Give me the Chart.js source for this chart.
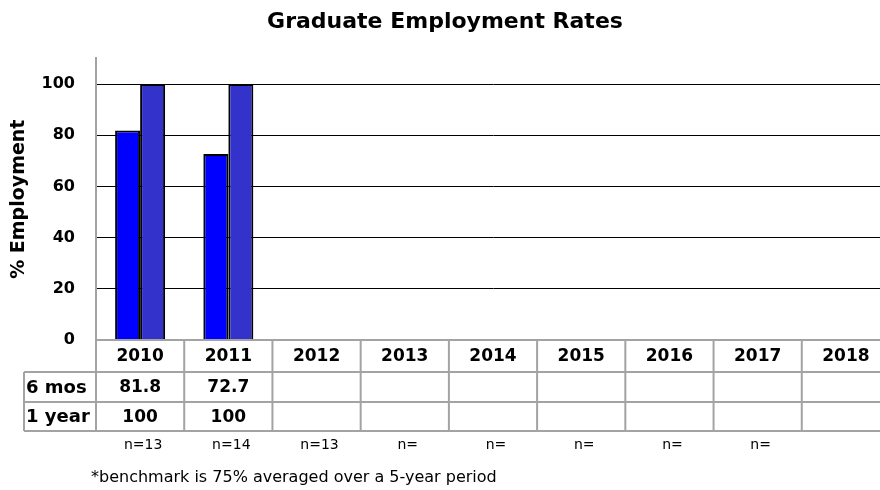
<!DOCTYPE html>
<html>
<head>
<meta charset="utf-8">
<script src="https://cdn.jsdelivr.net/npm/chart.js@4/dist/chart.umd.min.js"></script>
<style>
  html, body { margin: 0; padding: 0; background: #fff; overflow: hidden; }
  #wrap { width: 890px; height: 490px; }
</style>
</head>
<body>
<div id="wrap"><canvas id="c" width="890" height="490"></canvas></div>
<script>
const categories = ['2010', '2011', '2012', '2013', '2014', '2015', '2016', '2017', '2018'];
const sixMonths = [81.8, 72.7, null, null, null, null, null, null, null];
const oneYear = [100, 100, null, null, null, null, null, null, null];
const seriesNames = ['6 mos', '1 year'];
const sampleSizes = ['n=13', 'n=14', 'n=13', 'n=', 'n=', 'n=', 'n=', 'n=', ''];
const yTickValues = [0, 20, 40, 60, 80, 100];
const chartTitle = 'Graduate Employment Rates';
const yTitle = '% Employment';
const footnote = '*benchmark is 75% averaged over a 5-year period';

const FONT = 'DejaVu Sans';
const LINE = '#a3a3a3';

const tablePlugin = {
  id: 'dataTable',
  afterDraw(chart) {
    const ctx = chart.ctx;
    const x = chart.scales.x;
    const area = chart.chartArea;
    const n = categories.length;
    const w = (x.getPixelForValue(1) - x.getPixelForValue(0));
    const left = area.left;
    const right = area.right;
    const top = area.bottom;
    const rows = [top, top + 32, top + 62, top + 91];
    const labelLeft = 24;
    ctx.save();
    ctx.strokeStyle = LINE;
    ctx.lineWidth = 2;
    ctx.beginPath();
    ctx.moveTo(left, rows[0]); ctx.lineTo(right, rows[0]);
    for (let r = 1; r < rows.length; r++) {
      ctx.moveTo(labelLeft, rows[r]); ctx.lineTo(right, rows[r]);
    }
    for (let i = 0; i <= n; i++) {
      const px = x.getPixelForValue(i) - w / 2;
      ctx.moveTo(px, rows[0]); ctx.lineTo(px, rows[3]);
    }
    ctx.moveTo(labelLeft, rows[1]); ctx.lineTo(labelLeft, rows[3]);
    ctx.stroke();

    ctx.fillStyle = '#000';
    ctx.textBaseline = 'middle';
    ctx.textAlign = 'center';
    ctx.font = 'bold 17px "' + FONT + '"';
    const series = [sixMonths, oneYear];
    categories.forEach((c, i) => {
      const cx = x.getPixelForValue(i);
      ctx.fillText(c, cx, (rows[0] + rows[1]) / 2 + 1);
      series.forEach((s, k) => {
        if (s[i] !== null) ctx.fillText(String(s[i]), cx, (rows[k + 1] + rows[k + 2]) / 2 + 1);
      });
    });
    ctx.textAlign = 'left';
    ctx.font = 'bold 18px "' + FONT + '"';
    seriesNames.forEach((name, k) => {
      ctx.fillText(name, labelLeft + 2, (rows[k + 1] + rows[k + 2]) / 2 + 1);
    });

    ctx.textAlign = 'center';
    ctx.font = '14px "' + FONT + '"';
    sampleSizes.forEach((s, i) => {
      if (s) ctx.fillText(s, x.getPixelForValue(i) + 3, rows[3] + 14);
    });
    ctx.textAlign = 'left';
    ctx.font = '16px "' + FONT + '"';
    ctx.fillText(footnote, 91, 478);
    ctx.restore();
  }
};

new Chart(document.getElementById('c'), {
  type: 'bar',
  data: {
    labels: categories,
    datasets: [
      { label: seriesNames[0], data: sixMonths, backgroundColor: '#0000ff', borderColor: '#000', borderWidth: 2 },
      { label: seriesNames[1], data: oneYear, backgroundColor: '#3333cc', borderColor: '#000', borderWidth: 2 }
    ]
  },
  options: {
    responsive: false,
    animation: false,
    events: [],
    layout: { padding: { left: 0, right: 0, top: 0, bottom: 150 } },
    datasets: { bar: { categoryPercentage: 0.567, barPercentage: 1.0 } },
    plugins: {
      legend: { display: false },
      tooltip: { enabled: false },
      title: {
        display: true,
        text: chartTitle,
        color: '#000',
        font: { family: FONT, weight: 'bold', size: 22 },
        padding: { top: 9, bottom: 23 }
      }
    },
    scales: {
      x: {
        grid: { display: false, drawTicks: false },
        border: { display: true, color: LINE, width: 2 },
        ticks: { display: false },
        afterFit(scale) { scale.height = 0; }
      },
      y: {
        min: 0,
        max: 110,
        afterBuildTicks(scale) {
          scale.ticks = yTickValues.map(v => ({ value: v }));
        },
        ticks: {
          color: '#000',
          padding: 21,
          font: { family: FONT, weight: 'bold', size: 16 }
        },
        grid: {
          drawTicks: false,
          color: ctx => (ctx.tick && ctx.tick.value === 0) ? 'rgba(0,0,0,0)' : '#000',
          lineWidth: 1
        },
        border: { display: true, color: LINE, width: 2 },
        title: {
          display: true,
          text: yTitle,
          color: '#000',
          font: { family: FONT, weight: 'bold', size: 19 },
          padding: { top: 8, bottom: 0 }
        },
        afterFit(scale) { scale.width = 96; }
      }
    }
  },
  plugins: [tablePlugin]
});
</script>
</body>
</html>
